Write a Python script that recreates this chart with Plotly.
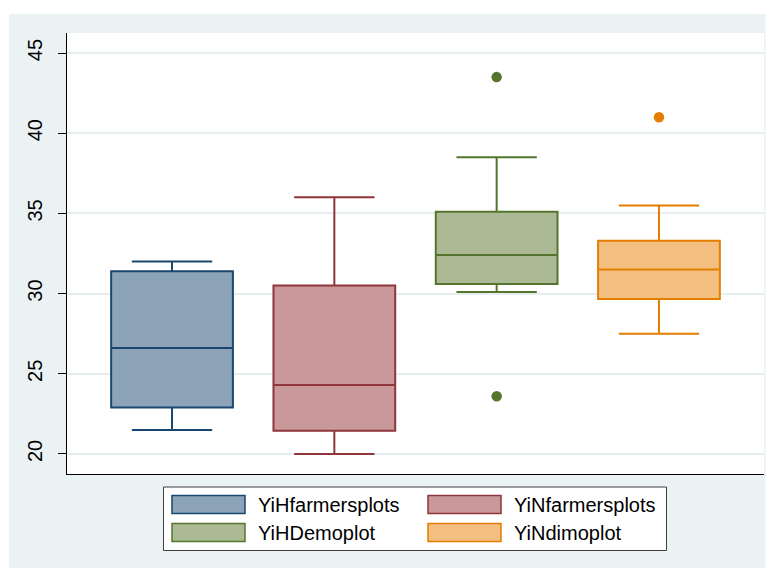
import plotly.graph_objects as go

# ---- data ----
groups = ["YiHfarmersplots", "YiNfarmersplots", "YiHDemoplot", "YiNdimoplot"]
q1 = [22.9, 21.45, 30.6, 29.67]
median = [26.6, 24.3, 32.4, 31.5]
q3 = [31.4, 30.5, 35.1, 33.3]
lowerfence = [21.5, 20.0, 30.1, 27.5]
upperfence = [32.0, 36.0, 38.5, 35.5]
outliers = [[], [], [43.5, 23.6], [41.0]]
yticks = [20, 25, 30, 35, 40, 45]

line_colors = ["#1A476F", "#90353B", "#55752F", "#E37E00"]
fill_colors = ["#8CA3B8", "#C8989B", "#ABBA95", "#F2BF80"]

W, H = 771, 568
L, R, T, B = 67, 7, 33, 94
pw, ph = W - L - R, H - T - B

def px(x):
    return (x - L) / pw

def py(y):
    return (H - B - y) / ph

fig = go.Figure()
for i, g in enumerate(groups):
    fig.add_trace(go.Box(
        x=[i], q1=[q1[i]], median=[median[i]], q3=[q3[i]],
        lowerfence=[lowerfence[i]], upperfence=[upperfence[i]],
        name=g, width=0.75, whiskerwidth=0.66,
        line=dict(color=line_colors[i], width=2),
        fillcolor=fill_colors[i], boxpoints=False,
        showlegend=False, hoverinfo="skip",
    ))
    if outliers[i]:
        fig.add_trace(go.Scatter(
            x=[i] * len(outliers[i]), y=outliers[i], mode="markers",
            marker=dict(color=line_colors[i], size=10.5, line=dict(width=0)),
            showlegend=False, hoverinfo="skip",
        ))

shapes = []
# white border strips around the light graph region
shapes.append(dict(type="rect", xref="paper", yref="paper", x0=px(0), x1=px(W), y0=py(0), y1=py(14),
                   fillcolor="white", line=dict(width=0), layer="above"))
shapes.append(dict(type="rect", xref="paper", yref="paper", x0=px(0), x1=px(9), y0=py(0), y1=py(H),
                   fillcolor="white", line=dict(width=0), layer="above"))
shapes.append(dict(type="rect", xref="paper", yref="paper", x0=px(765.5), x1=px(W), y0=py(0), y1=py(H),
                   fillcolor="white", line=dict(width=0), layer="above"))
# legend box
shapes.append(dict(type="rect", xref="paper", yref="paper", x0=px(163.5), x1=px(666.5), y0=py(487), y1=py(550.5),
                   fillcolor="white", line=dict(color="#404040", width=1), layer="above"))
annotations = []
sw_x = [172, 428]
txt_x = [256, 512]
row_y = [504.5, 532.5]
for i, g in enumerate(groups):
    c, r = i % 2, i // 2
    shapes.append(dict(type="rect", xref="paper", yref="paper",
                       x0=px(sw_x[c]), x1=px(sw_x[c] + 73),
                       y0=py(row_y[r] - 9), y1=py(row_y[r] + 9),
                       fillcolor=fill_colors[i], line=dict(color=line_colors[i], width=1.5), layer="above"))
    annotations.append(dict(xref="paper", yref="paper", x=px(txt_x[c]), y=py(row_y[r]),
                            text=g, showarrow=False, xanchor="left", yanchor="middle",
                            font=dict(family="Liberation Sans, Arial", size=20, color="black")))

fig.update_layout(
    width=W, height=H,
    margin=dict(l=L, r=R, t=T, b=B, pad=0),
    paper_bgcolor="#EAF2F3", plot_bgcolor="white",
    showlegend=False, shapes=shapes, annotations=annotations,
    font=dict(family="Liberation Sans, Arial", color="black"),
)
fig.update_xaxes(range=[-0.647, 3.647], showgrid=False, zeroline=False,
                 showticklabels=False, ticks="", showline=True, linecolor="black", linewidth=1.2)
fig.update_yaxes(range=[18.75, 46.25], tickvals=yticks, ticktext=[str(v) for v in yticks],
                 tickangle=-90, tickfont=dict(size=20, family="Liberation Sans, Arial", color="black"),
                 ticks="outside", ticklen=8, tickcolor="black", tickwidth=1,
                 showgrid=True, gridcolor="#E6EEF1", gridwidth=1.5, zeroline=False,
                 showline=True, linecolor="black", linewidth=1.2, ticklabelstandoff=8)

fig.write_html("out.html", config={"displayModeBar": False},
               post_script="document.body.style.margin='0';document.body.style.padding='0';")
